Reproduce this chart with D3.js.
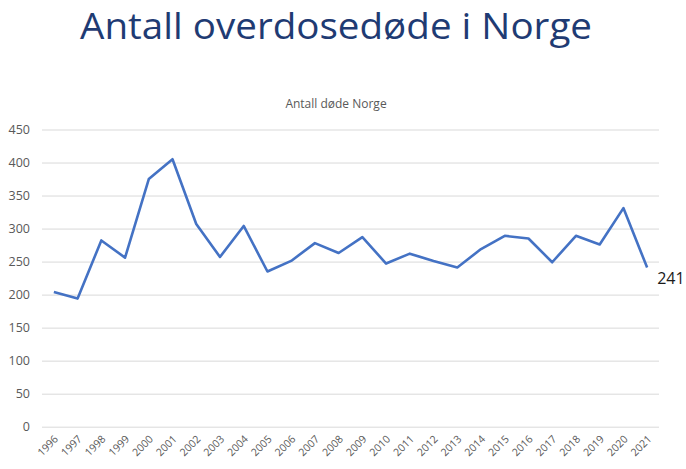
<!DOCTYPE html>
<html><head><meta charset="utf-8">
<script src="https://cdn.jsdelivr.net/npm/d3@7"></script>
<style>body{margin:0;background:#fff;} svg{display:block;}</style>
</head><body>
<script>
const years = ["1996","1997","1998","1999","2000","2001","2002","2003","2004","2005","2006","2007","2008","2009","2010","2011","2012","2013","2014","2015","2016","2017","2018","2019","2020","2021"];
const deaths = [204,194,282,256,375,405,307,257,304,235,251,278,263,287,247,262,251,241,269,289,285,249,289,276,331,241];
const yTicks = [0,50,100,150,200,250,300,350,400,450];
const title = "Antall overdosedøde i Norge";
const chartTitle = "Antall døde Norge";
const lastLabel = "241";

const W = 686, H = 469;
const svg = d3.select("body").append("svg").attr("width", W).attr("height", H);
const font = "'Open Sans', 'Noto Sans', sans-serif";

const x = d3.scaleBand().domain(years).range([42, 659]);
const y = d3.scaleLinear().domain([0, 450]).range([426.7, 129.5]);

// main title
const t = svg.append("text").attr("x", 336).attr("y", 39).attr("text-anchor", "middle")
  .attr("font-family", "'Open Sans', sans-serif").attr("font-size", 36).attr("fill", "#1F3B73").text(title);
t.attr("textLength", 512).attr("lengthAdjust", "spacingAndGlyphs");

svg.append("text").attr("x", 336).attr("y", 108).attr("text-anchor", "middle")
  .attr("font-family", font).attr("font-size", 12).attr("fill", "#595959").text(chartTitle);

// grid
const yAxis = d3.axisLeft(y).tickValues(yTicks).tickSize(-(659 - 42)).tickPadding(12);
const gy = svg.append("g").attr("transform", "translate(42,0)").call(yAxis);
gy.select(".domain").remove();
gy.selectAll(".tick line").attr("stroke", "#d9d9d9").attr("stroke-width", 1);
gy.selectAll(".tick text").attr("font-family", font).attr("font-size", 12.5).attr("fill", "#595959");

// x axis labels
const xAxis = d3.axisBottom(x).tickSize(0).tickPadding(0);
const gx = svg.append("g").attr("transform", "translate(0,426.7)").call(xAxis);
gx.select(".domain").remove();
gx.selectAll(".tick text")
  .attr("font-family", font).attr("font-size", 10.5).attr("fill", "#595959")
  .attr("text-anchor", "end").attr("dy", null).attr("y", 0)
  .attr("transform", "translate(5,13) rotate(-45)");

// line
const line = d3.line().x((d, i) => x(years[i]) + x.bandwidth() / 2).y(d => y(d));
svg.append("path").datum(deaths).attr("d", line).attr("fill", "none")
  .attr("stroke", "#4472C4").attr("stroke-width", 2.6).attr("stroke-linejoin", "round");

// last value label
const li = deaths.length - 1;
svg.append("text").attr("x", x(years[li]) + x.bandwidth() / 2 + 10).attr("y", y(deaths[li]) + 16)
  .attr("font-family", font).attr("font-size", 16).attr("fill", "#1a1a1a").text(lastLabel);
</script>
</body></html>
